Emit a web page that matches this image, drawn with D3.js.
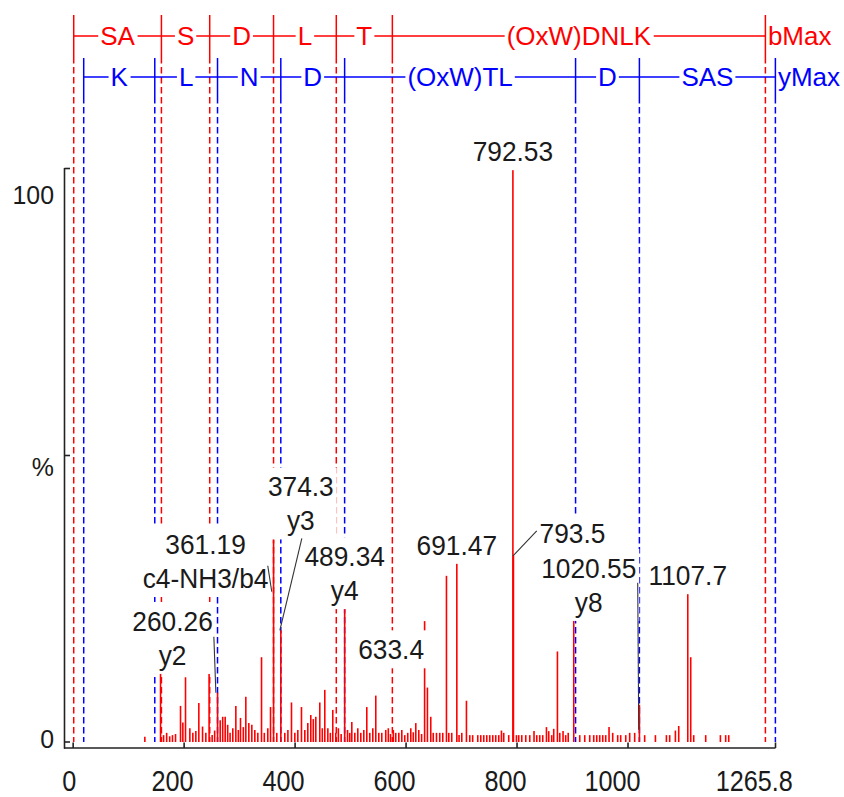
<!DOCTYPE html>
<html>
<head>
<meta charset="utf-8">
<script src="https://cdn.jsdelivr.net/npm/d3@7"></script>
<style>
  html, body { margin: 0; padding: 0; background: #fff; }
  svg { display: block; font-family: "Liberation Sans", Arial, sans-serif; }
</style>
</head>
<body>
<svg id="chart" width="844" height="797"></svg>
<script>
// ---------- spectrum data ----------
const peakMz = [
  129.2, 157.5, 163.0, 168.5, 174.0, 179.0, 184.5, 193.5, 197.7, 202.5,
  210.3, 215.7, 221.1, 226.5, 233.2, 239.1, 245.0, 250.5, 255.0, 260.26,
  265.0, 269.5, 274.0, 278.5, 282.8, 287.7, 293.2, 297.7, 301.6, 306.7,
  311.2, 316.6, 322.0, 327.4, 332.8, 339.5, 344.5, 350.8, 355.7, 361.19,
  367.0, 374.3, 381.4, 387.0, 393.5, 399.5, 404.9, 411.5, 417.5, 422.9,
  428.3, 432.8, 437.3, 444.5, 449.0, 453.5, 459.0, 463.5, 467.9, 473.3,
  478.0, 483.0, 489.34, 494.5, 498.5, 502.2, 507.6, 513.0, 518.4, 523.8,
  529.2, 534.6, 540.0, 545.4, 550.8, 556.2, 563.4, 568.0, 572.0, 577.0,
  581.4, 586.9, 592.3, 597.6, 603.0, 608.5, 613.0, 617.5, 622.9, 628.0,
  633.4, 638.5, 644.5, 649.0, 654.8, 660.7, 666.1, 672.8, 677.0, 682.3,
  691.47, 695.5, 700.4, 708.8, 714.8, 720.0, 729.2, 734.6, 740.0, 745.4,
  750.8, 756.2, 761.6, 767.0, 771.9, 776.0, 785.0, 792.53, 793.5, 798.9,
  803.0, 808.5, 815.7, 822.9, 830.6, 835.5, 840.9, 846.3, 853.0, 857.1,
  862.5, 866.1, 872.8, 877.0, 882.9, 887.7, 892.2, 902.2, 913.0, 922.0,
  931.0, 938.2, 943.6, 949.0, 954.4, 959.8, 965.8, 972.4, 981.4, 986.8,
  995.9, 1003.0, 1012.0, 1020.55, 1030.0, 1049.4, 1069.2, 1075.1, 1085.4, 1091.4,
  1107.7, 1113.0, 1118.4, 1140.0, 1166.5, 1176.0, 1181.5
];
const peakIntensity = [
  0.9, 12.0, 1.2, 1.6, 1.0, 1.2, 1.4, 6.3, 3.4, 11.3,
  2.4, 1.6, 1.9, 6.8, 2.7, 1.6, 11.9, 1.2, 2.0, 8.6,
  3.8, 4.4, 4.4, 3.0, 1.6, 2.4, 6.3, 2.1, 4.2, 2.6,
  7.9, 3.3, 3.0, 2.1, 1.6, 14.8, 1.6, 2.4, 6.1, 35.3,
  1.6, 19.5, 1.6, 2.1, 6.9, 1.6, 2.1, 6.1, 2.1, 3.3,
  4.7, 4.0, 4.4, 6.9, 2.4, 9.1, 2.4, 1.6, 5.6, 1.6,
  2.4, 1.4, 23.4, 2.1, 1.6, 3.5, 1.6, 2.4, 1.6, 2.1,
  6.1, 1.6, 2.4, 8.1, 1.6, 1.6, 2.1, 2.4, 1.4, 2.1,
  1.6, 1.6, 2.1, 1.2, 1.6, 2.4, 1.7, 3.3, 2.1, 1.4,
  21.1, 9.5, 4.4, 1.6, 1.6, 1.6, 1.6, 29.0, 1.6, 1.6,
  31.3, 1.2, 1.6, 7.2, 1.2, 1.2, 1.2, 1.2, 1.2, 1.2,
  1.2, 1.2, 1.2, 1.2, 2.0, 1.6, 1.2, 100, 32.5, 1.2,
  1.2, 1.2, 1.2, 1.2, 1.9, 1.2, 1.2, 1.2, 2.6, 1.9,
  1.2, 2.3, 15.8, 1.6, 1.9, 1.2, 1.6, 21.3, 1.2, 1.2,
  1.2, 1.2, 1.2, 1.2, 1.2, 1.2, 2.6, 1.6, 1.2, 1.2,
  1.2, 1.6, 1.6, 6.5, 1.2, 1.2, 1.2, 1.2, 2.0, 2.8,
  26.0, 14.8, 1.2, 1.2, 1.2, 1.2, 1.2
];

// annotated peaks
const labelMz = [260.26, 361.19, 374.3, 489.34, 633.4, 691.47, 792.53, 793.5, 1020.55, 1107.7];
const labelLines = [
  ["260.26", "y2"], ["361.19", "c4-NH3/b4"], ["374.3", "y3"], ["489.34", "y4"],
  ["633.4"], ["691.47"], ["792.53"], ["793.5"], ["1020.55", "y8"], ["1107.7"]
];

// fragment ladders for SASDLT(OxW)DNLK
const bIonMz = [1.007, 159.08, 246.11, 361.14, 474.22, 575.27, 1247.59];
const bIonNames = ["SA", "S", "D", "L", "T", "(OxW)DNLK"];
const yIonMz = [19.02, 147.11, 260.19, 374.24, 489.27, 905.47, 1020.50, 1265.6];
const yIonNames = ["K", "L", "N", "D", "(OxW)TL", "D", "SAS"];

// axes
const xTicks = [0, 200, 400, 600, 800, 1000, 1265.8];
const yTicks = [0, 50, 100];
const yTickNames = ["0", "%", "100"];

// ---------- layout ----------
const RED = "#ff0000", BLUE = "#0000ff", INK = "#1a1a1a", AXIS = "#222";
const svg = d3.select("#chart");
svg.append("rect").attr("width", 844).attr("height", 797).attr("fill", "#fff");

const x = d3.scaleLinear().domain([-16.5, 1265.8]).range([64, 775.5]);
const y = d3.scaleLinear().domain([0, 100]).range([742, 169]);
const yLabelPos = d3.scaleLinear().domain([0, 100]).range([748, 204]);

// offsets of displaced peak labels (from the default spot above the peak) and their leader lines
const labelPlacement = {
  "260.26":  { dx: -45,  dy: -20, leader: [[-3.7, -56], [-1.7, 0]] },
  "361.19":  { dx: -68,  dy: 56,  leader: [[-5.8, 26], [-1.8, 52]] },
  "374.3":   { dx: 20,   dy: -92, leader: [[21, -92], [-1, 0]] },
  "633.4":   { dx: -33.5, dy: 46 },
  "793.5":   { dx: 59,   dy: -5,  leader: [[23.3, -25], [-0.4, 0]] },
  "1020.55": { dx: -50.7, dy: -85, leader: [[-1.7, -122], [-0.7, 25]] }
};

// ---------- dashed fragment guides ----------
const guides = svg.append("g");
guides.selectAll("line.bguide").data(bIonMz).join("line").attr("class", "bguide")
  .attr("x1", d => x(d)).attr("x2", d => x(d))
  .attr("y1", 57).attr("y2", y(0))
  .attr("stroke", RED).attr("stroke-width", 1.5).attr("stroke-dasharray", "6.5,3.5");
guides.selectAll("line.yguide").data(yIonMz).join("line").attr("class", "yguide")
  .attr("x1", d => x(d)).attr("x2", d => x(d))
  .attr("y1", 97).attr("y2", y(0))
  .attr("stroke", BLUE).attr("stroke-width", 1.5).attr("stroke-dasharray", "6.5,3.5");

// ---------- ladders ----------
function ladder(positions, names, endName, lineY, tickTop, tickBottom, baseline, color) {
  const g = svg.append("g");
  const last = positions[positions.length - 1];
  g.append("line")
    .attr("x1", x(positions[0])).attr("x2", x(last))
    .attr("y1", lineY).attr("y2", lineY)
    .attr("stroke", color).attr("stroke-width", 1.5);
  g.selectAll("line.tick").data(positions).join("line").attr("class", "tick")
    .attr("x1", d => x(d)).attr("x2", d => x(d))
    .attr("y1", tickTop).attr("y2", tickBottom)
    .attr("stroke", color).attr("stroke-width", 1.5);
  const segs = names.map((n, i) => ({ name: n, mid: (x(positions[i]) + x(positions[i + 1])) / 2 }));
  const lab = g.selectAll("g.seg").data(segs).join("g").attr("class", "seg");
  lab.append("rect").attr("fill", "#fff");
  lab.append("text")
    .attr("x", d => d.mid).attr("y", baseline)
    .attr("text-anchor", "middle").attr("font-size", 26).attr("fill", color)
    .text(d => d.name);
  lab.each(function () {
    const b = d3.select(this).select("text").node().getBBox();
    d3.select(this).select("rect")
      .attr("x", b.x - 2).attr("y", b.y).attr("width", b.width + 4).attr("height", b.height);
  });
  g.append("text")
    .attr("x", x(last) + 2.5).attr("y", baseline)
    .attr("font-size", 26).attr("fill", color)
    .text(endName);
}
ladder(bIonMz, bIonNames, "bMax", 36, 15, 57, 45, RED);
ladder(yIonMz, yIonNames, "yMax", 77, 58, 97, 86, BLUE);

// ---------- peaks ----------
const peaks = peakMz.map((m, i) => ({ mz: m, v: peakIntensity[i] }));
svg.append("g").selectAll("line").data(peaks).join("line")
  .attr("x1", d => x(d.mz)).attr("x2", d => x(d.mz))
  .attr("y1", y(0)).attr("y2", d => y(d.v))
  .attr("stroke", RED).attr("stroke-width", 1.6);

// ---------- axes ----------
const axes = svg.append("g").attr("stroke", AXIS).attr("stroke-width", 1.6);
axes.append("line").attr("x1", 64.5).attr("x2", 64.5).attr("y1", 168).attr("y2", 748.8);
axes.append("line").attr("x1", 64).attr("x2", x(1265.8)).attr("y1", 748).attr("y2", 748);
axes.selectAll("line.xt").data(xTicks).join("line").attr("class", "xt")
  .attr("x1", d => x(d)).attr("x2", d => x(d)).attr("y1", 748).attr("y2", 742.5);
axes.selectAll("line.yt").data(yTicks).join("line").attr("class", "yt")
  .attr("x1", 64.5).attr("x2", 70).attr("y1", d => y(d) - (d === 100 ? 0.5 : 0)).attr("y2", d => y(d) - (d === 100 ? 0.5 : 0));

const XS = 0.87;
svg.append("g").selectAll("g").data(xTicks).join("g")
  .each(function (d) {
    const g = d3.select(this);
    const t = g.append("text").attr("text-anchor", "middle").attr("font-size", 29)
      .attr("fill", INK).text(d3.format("~")(d));
    const w = t.node().getBBox().width * XS;
    g.attr("transform", `translate(${x(d) - 0.275 * w},790.5) scale(${XS},1)`);
  });

svg.append("g").selectAll("g").data(yTicks).join("g")
  .attr("transform", d => `translate(54,${yLabelPos(d)}) scale(0.94,1)`)
  .append("text").attr("text-anchor", "end").attr("font-size", 26.5).attr("fill", INK)
  .text((d, i) => yTickNames[i]);

// ---------- peak annotations ----------
const LS = 0.94, LINE_GAP = 34, PAD = 3;
const annos = labelMz.map((m, i) => {
  const v = peakIntensity[peakMz.indexOf(m)];
  const p = labelPlacement[String(m)] || { dx: 0, dy: 0 };
  return { mz: m, v, lines: labelLines[i], px: x(m), pt: y(v), p };
});

const annoG = svg.append("g");
annos.forEach(a => {
  const g = annoG.append("g")
    .attr("transform", `translate(${a.px + a.p.dx},${a.pt - 8 + a.p.dy}) scale(${LS},1)`);
  const box = g.append("rect").attr("fill", "#fff");
  const n = a.lines.length;
  a.lines.forEach((s, k) => {
    g.append("text").attr("x", 0).attr("y", -(n - 1 - k) * LINE_GAP)
      .attr("text-anchor", "middle").attr("font-size", 28).attr("fill", INK).text(s);
  });
  const b = g.node().getBBox();
  box.attr("x", b.x - PAD / LS).attr("y", b.y - PAD)
    .attr("width", b.width + 2 * PAD / LS).attr("height", b.height + 2 * PAD);
});

// leader lines from displaced labels to their peaks
annoG.selectAll("line.leader").data(annos.filter(a => a.p.leader)).join("line").attr("class", "leader")
  .attr("x1", a => a.px + a.p.leader[0][0]).attr("y1", a => a.pt + a.p.leader[0][1])
  .attr("x2", a => a.px + a.p.leader[1][0]).attr("y2", a => a.pt + a.p.leader[1][1])
  .attr("stroke", "#333").attr("stroke-width", 1.1);
</script>
</body>
</html>
